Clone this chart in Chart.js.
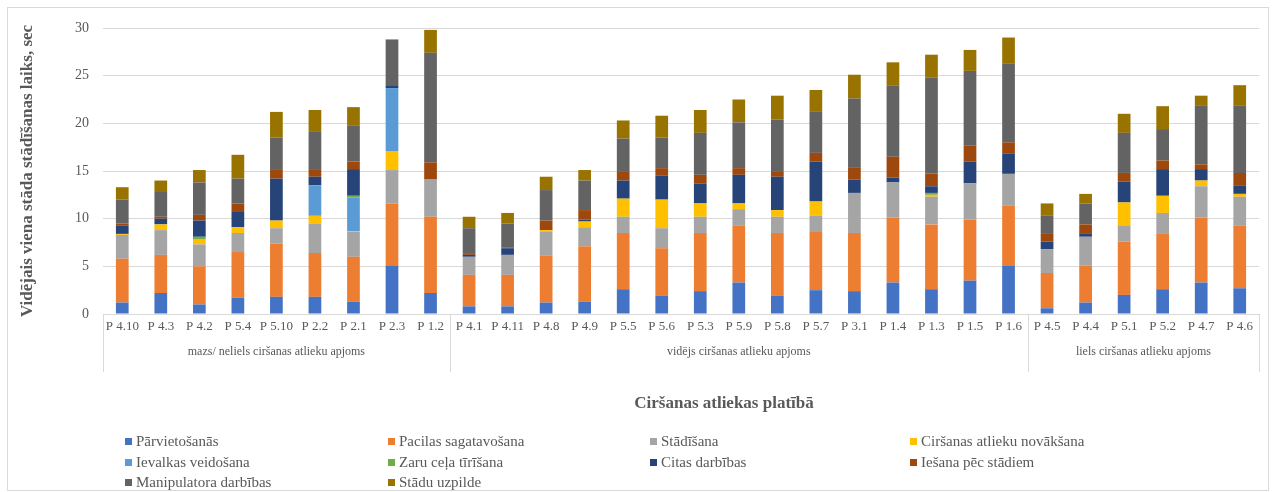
<!DOCTYPE html>
<html>
<head>
<meta charset="utf-8">
<script src="https://cdn.jsdelivr.net/npm/chart.js@4.4.1/dist/chart.umd.min.js"></script>
<style>
  html, body { margin: 0; padding: 0; background: #fff; }
  #wrap { width: 1276px; height: 492px; position: relative; }
</style>
</head>
<body>
<div id="wrap"><canvas id="chart" width="1276" height="492"></canvas></div>
<script>
// Categories (plots) and their groups
const categories = ['P 4.10', 'P 4.3', 'P 4.2', 'P 5.4', 'P 5.10', 'P 2.2', 'P 2.1', 'P 2.3', 'P 1.2',
    'P 4.1', 'P 4.11', 'P 4.8', 'P 4.9', 'P 5.5', 'P 5.6', 'P 5.3', 'P 5.9', 'P 5.8', 'P 5.7', 'P 3.1', 'P 1.4', 'P 1.3', 'P 1.5', 'P 1.6',
    'P 4.5', 'P 4.4', 'P 5.1', 'P 5.2', 'P 4.7', 'P 4.6'];
const groupNames = ['mazs/ neliels ciršanas atlieku apjoms', 'vidējs ciršanas atlieku apjoms', 'liels ciršanas atlieku apjoms'];
const groupSizes = [9, 15, 6];

// Series values, sec (bottom of the stack first)
const parvietosanas = [1.2, 2.2, 1.0, 1.7, 1.8, 1.8, 1.3, 5.1, 2.2, 0.8, 0.8, 1.2, 1.3, 2.6, 1.9, 2.4, 3.3, 1.9, 2.5, 2.4, 3.3, 2.6, 3.5, 5.1, 0.6, 1.2, 2.0, 2.6, 3.3, 2.7];
const pacilas = [4.6, 4.0, 4.0, 4.8, 5.6, 4.6, 4.7, 6.5, 8.0, 3.3, 3.3, 4.9, 5.8, 5.9, 5.0, 6.1, 6.0, 6.6, 6.1, 6.1, 6.8, 6.8, 6.4, 6.3, 3.7, 3.9, 5.6, 5.8, 6.8, 6.6];
const stadisana = [2.5, 2.6, 2.3, 2.0, 1.6, 3.1, 2.6, 3.5, 3.9, 1.9, 2.1, 2.5, 2.0, 1.7, 2.1, 1.7, 1.7, 1.7, 1.7, 4.2, 3.7, 2.9, 3.8, 3.3, 2.5, 3.0, 1.7, 2.2, 3.3, 3.0];
const novaksana = [0.1, 0.6, 0.5, 0.6, 0.8, 0.8, 0.1, 2.0, 0, 0, 0, 0.2, 0.6, 1.9, 3.0, 1.4, 0.6, 0.7, 1.5, 0, 0, 0.2, 0, 0, 0, 0, 2.4, 1.8, 0.6, 0.3];
const ievalkas = [0, 0, 0, 0, 0, 3.2, 3.5, 6.6, 0, 0, 0, 0, 0, 0, 0, 0, 0, 0, 0, 0, 0, 0, 0, 0, 0, 0, 0, 0, 0, 0];
const zaruCels = [0, 0, 0.3, 0, 0, 0, 0.2, 0, 0, 0, 0, 0, 0, 0, 0, 0, 0, 0, 0, 0, 0, 0.2, 0, 0, 0, 0, 0, 0, 0, 0];
const citas = [0.9, 0.6, 1.7, 1.6, 4.4, 0.9, 2.8, 0.3, 0, 0.2, 0.7, 0.1, 0.2, 1.9, 2.5, 2.1, 3.0, 3.5, 4.2, 1.4, 0.5, 0.7, 2.3, 2.1, 0.8, 0.3, 2.2, 2.8, 1.2, 0.9];
const iesana = [0.2, 0.2, 0.6, 0.9, 1.0, 0.8, 0.8, 0, 1.8, 0.1, 0.1, 0.9, 1.0, 0.9, 0.8, 0.9, 0.7, 0.5, 0.9, 1.3, 2.2, 1.3, 1.7, 1.2, 0.8, 1.0, 0.9, 0.9, 0.5, 1.3];
const manipulatora = [2.5, 2.6, 3.4, 2.6, 3.3, 3.9, 3.8, 4.8, 11.5, 2.7, 2.5, 3.2, 3.1, 3.5, 3.2, 4.4, 4.8, 5.5, 4.3, 7.2, 7.5, 10.1, 7.8, 8.3, 1.9, 2.2, 4.2, 3.3, 6.2, 7.1];
const uzpilde = [1.3, 1.2, 1.3, 2.5, 2.7, 2.3, 1.9, 0, 2.4, 1.2, 1.1, 1.4, 1.1, 1.9, 2.3, 2.4, 2.4, 2.5, 2.3, 2.5, 2.4, 2.4, 2.2, 2.7, 1.3, 1.0, 2.0, 2.4, 1.0, 2.1];

const seriesLabels = ['Pārvietošanās', 'Pacilas sagatavošana', 'Stādīšana', 'Ciršanas atlieku novākšana',
    'Ievalkas veidošana', 'Zaru ceļa tīrīšana', 'Citas darbības', 'Iešana pēc stādiem',
    'Manipulatora darbības', 'Stādu uzpilde'];
const seriesValues = [parvietosanas, pacilas, stadisana, novaksana, ievalkas, zaruCels, citas, iesana, manipulatora, uzpilde];
const seriesColors = ['#4472c4', '#ed7d31', '#a5a5a5', '#ffc000', '#5b9bd5', '#70ad47', '#264478', '#9e480e', '#636363', '#997300'];

const yTicks = [0, 5, 10, 15, 20, 25, 30];

const serif = "'Liberation Serif', 'DejaVu Serif', serif";
const textColor = '#595959';
const gridColor = '#d9d9d9';

// Legend grid, 4 columns
const legendCols = [128, 391, 653, 913];
const legendRows = [441, 462, 482];

// group separators, group names, axis title, legend, chart border
const extras = {
    id: 'extras',
    beforeDraw(chart) {
        const ctx = chart.ctx;
        ctx.save();
        ctx.fillStyle = '#fff';
        ctx.fillRect(0, 0, chart.width, chart.height);
        ctx.strokeStyle = gridColor;
        ctx.lineWidth = 1;
        ctx.strokeRect(7.5, 7.5, chart.width - 15, chart.height - 9);
        ctx.restore();
    },
    afterDraw(chart) {
        const { ctx, chartArea } = chart;
        const x = chart.scales.x;
        ctx.save();

        // vertical separators between groups
        ctx.strokeStyle = gridColor;
        ctx.lineWidth = 1;
        let start = 0;
        const bounds = [x.getPixelForValue(-0.5)];
        groupSizes.forEach(n => {
            start += n;
            bounds.push(x.getPixelForValue(start - 0.5));
        });
        bounds.forEach(b => {
            const px = Math.round(b) + 0.5;
            ctx.beginPath();
            ctx.moveTo(px, chartArea.bottom);
            ctx.lineTo(px, 372);
            ctx.stroke();
        });

        // group names
        ctx.fillStyle = textColor;
        ctx.font = '12px ' + serif;
        ctx.textAlign = 'center';
        ctx.textBaseline = 'middle';
        groupNames.forEach((name, i) => {
            ctx.fillText(name, (bounds[i] + bounds[i + 1]) / 2, 352);
        });

        // x axis title
        ctx.font = 'bold 17px ' + serif;
        ctx.fillText('Ciršanas atliekas platībā', 724, 404);

        // legend
        ctx.font = '15px ' + serif;
        ctx.textAlign = 'left';
        seriesLabels.forEach((label, i) => {
            const cx = legendCols[i % 4];
            const cy = legendRows[Math.floor(i / 4)];
            ctx.fillStyle = seriesColors[i];
            ctx.fillRect(cx - 3, cy - 3, 7, 7);
            ctx.fillStyle = textColor;
            ctx.fillText(label, cx + 8, cy + 1);
        });

        ctx.restore();
    }
};

const ctx = document.getElementById('chart').getContext('2d');
new Chart(ctx, {
    type: 'bar',
    data: {
        labels: categories,
        datasets: seriesLabels.map((label, i) => ({
            label: label,
            data: seriesValues[i],
            backgroundColor: seriesColors[i],
            borderWidth: 0,
            categoryPercentage: 1,
            barPercentage: 0.33
        }))
    },
    options: {
        responsive: false,
        animation: false,
        layout: { padding: { left: 13, top: 28, right: 17, bottom: 148 } },
        plugins: {
            legend: { display: false },
            tooltip: { enabled: false }
        },
        scales: {
            x: {
                stacked: true,
                grid: { display: false, drawTicks: false },
                border: { color: gridColor },
                ticks: {
                    color: textColor,
                    font: { family: serif, size: 13 },
                    padding: 5,
                    maxRotation: 0,
                    autoSkip: false
                },
                afterFit(scale) { scale.height = 30; }
            },
            y: {
                stacked: true,
                min: 0,
                max: 30,
                afterBuildTicks(scale) { scale.ticks = yTicks.map(v => ({ value: v })); },
                grid: { color: gridColor, drawTicks: false },
                border: { display: false },
                ticks: {
                    color: textColor,
                    font: { family: serif, size: 14 },
                    padding: 14
                },
                title: {
                    display: true,
                    text: 'Vidējais viena stāda stādīšanas laiks, sec',
                    color: textColor,
                    font: { family: serif, size: 17, weight: 'bold' },
                    padding: { top: 4, bottom: 4 }
                },
                afterFit(scale) { scale.width = 90; }
            }
        }
    },
    plugins: [extras]
});
</script>
</body>
</html>
